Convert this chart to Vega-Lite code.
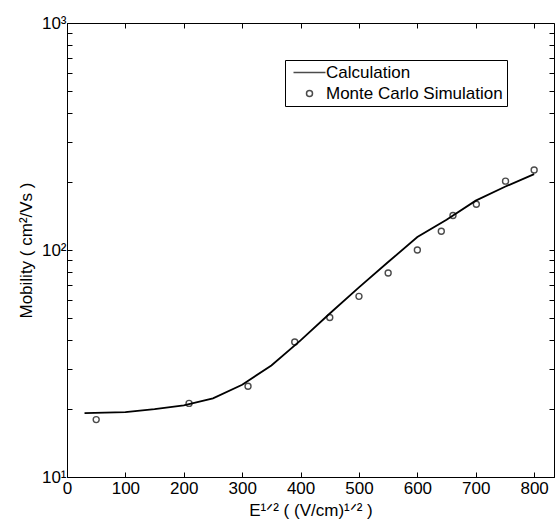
{
  "$schema": "https://vega.github.io/schema/vega-lite/v6.json",
  "width": 487,
  "height": 454,
  "autosize": {"type": "none"},
  "padding": {"left": 67, "top": 23, "right": 3, "bottom": 44},
  "background": "white",
  "config": {
    "font": "Liberation Sans",
    "view": {"stroke": "black", "strokeWidth": 1},
    "axis": {
      "domainColor": "black",
      "tickColor": "black",
      "labelColor": "black",
      "titleColor": "black",
      "labelFont": "Liberation Sans",
      "titleFont": "Liberation Sans",
      "labelFontSize": 17,
      "titleFontSize": 17,
      "titleFontWeight": "normal",
      "grid": false,
      "tickSize": -5,
      "tickWidth": 1
    }
  },
  "datasets": {
    "calc": [
      {"x": 30, "y": 19.1, "series": "Calculation"},
      {"x": 100, "y": 19.3, "series": "Calculation"},
      {"x": 150, "y": 19.9, "series": "Calculation"},
      {"x": 200, "y": 20.7, "series": "Calculation"},
      {"x": 250, "y": 22.2, "series": "Calculation"},
      {"x": 300, "y": 25.5, "series": "Calculation"},
      {"x": 350, "y": 31.0, "series": "Calculation"},
      {"x": 400, "y": 40.0, "series": "Calculation"},
      {"x": 450, "y": 52.5, "series": "Calculation"},
      {"x": 500, "y": 68.5, "series": "Calculation"},
      {"x": 550, "y": 88.5, "series": "Calculation"},
      {"x": 600, "y": 114, "series": "Calculation"},
      {"x": 650, "y": 136, "series": "Calculation"},
      {"x": 700, "y": 165, "series": "Calculation"},
      {"x": 750, "y": 190, "series": "Calculation"},
      {"x": 800, "y": 216, "series": "Calculation"}
    ],
    "mc": [
      {"x": 50, "y": 17.9, "series": "Monte Carlo Simulation"},
      {"x": 209, "y": 21.1, "series": "Monte Carlo Simulation"},
      {"x": 310, "y": 25.1, "series": "Monte Carlo Simulation"},
      {"x": 390, "y": 39.3, "series": "Monte Carlo Simulation"},
      {"x": 450, "y": 50.4, "series": "Monte Carlo Simulation"},
      {"x": 500, "y": 62.5, "series": "Monte Carlo Simulation"},
      {"x": 550, "y": 79.2, "series": "Monte Carlo Simulation"},
      {"x": 600, "y": 100, "series": "Monte Carlo Simulation"},
      {"x": 641, "y": 121, "series": "Monte Carlo Simulation"},
      {"x": 661, "y": 142, "series": "Monte Carlo Simulation"},
      {"x": 701, "y": 159, "series": "Monte Carlo Simulation"},
      {"x": 751, "y": 201, "series": "Monte Carlo Simulation"},
      {"x": 800, "y": 225, "series": "Monte Carlo Simulation"}
    ]
  },
  "layer": [
    {
      "data": {"name": "calc"},
      "mark": {"type": "line", "color": "black", "strokeWidth": 1.8, "clip": true},
      "encoding": {
        "x": {
          "field": "x", "type": "quantitative",
          "scale": {"domain": [0, 834], "nice": false, "zero": false},
          "axis": {"orient": "bottom", "values": [0,100,200,300,400,500,600,700,800], "title": "E¹ᐟ² ( (V/cm)¹ᐟ² )", "labelPadding": 8, "titlePadding": 6, "labelFlush": false}
        },
        "y": {
          "field": "y", "type": "quantitative",
          "scale": {"type": "log", "domain": [10, 1000], "nice": false},
          "axis": {
            "orient": "left",
            "values": [10,20,30,40,50,60,70,80,90,100,200,300,400,500,600,700,800,900,1000],
            "labelExpr": "datum.value==10?'10¹':datum.value==100?'10²':datum.value==1000?'10³':''",
            "title": "Mobility ( cm²/Vs )",
            "labelPadding": 6,
            "titlePadding": 6,
            "labelFlush": false
          }
        }
      }
    },
    {
      "data": {"name": "mc"},
      "mark": {"type": "point", "color": "black", "filled": false, "strokeWidth": 1.4, "size": 36},
      "encoding": {
        "x": {
          "field": "x", "type": "quantitative",
          "axis": {"orient": "top", "values": [0,100,200,300,400,500,600,700,800], "labels": false, "title": null, "domain": false}
        },
        "y": {
          "field": "y", "type": "quantitative",
          "axis": {"orient": "right", "values": [10,20,30,40,50,60,70,80,90,100,200,300,400,500,600,700,800,900,1000], "labels": false, "title": null, "domain": false}
        },
        "shape": {
          "field": "series", "type": "nominal",
          "scale": {"domain": ["Calculation", "Monte Carlo Simulation"], "range": ["M-5.333,0H5.333", "circle"]},
          "legend": {
            "title": null,
            "orient": "none",
            "legendX": 218,
            "legendY": 37,
            "padding": 4,
            "strokeColor": "black",
            "fillColor": "white",
            "labelFont": "Liberation Sans",
            "labelFontSize": 17,
            "labelColor": "black",
            "symbolSize": 36,
            "symbolStrokeColor": "black",
            "symbolStrokeWidth": 1.5,
            "symbolFillColor": "transparent",
            "symbolOffset": 12,
            "labelOffset": 8,
            "rowPadding": 3,
            "labelLimit": 300
          }
        }
      }
    }
  ],
  "resolve": {"axis": {"x": "independent", "y": "independent"}}
}
